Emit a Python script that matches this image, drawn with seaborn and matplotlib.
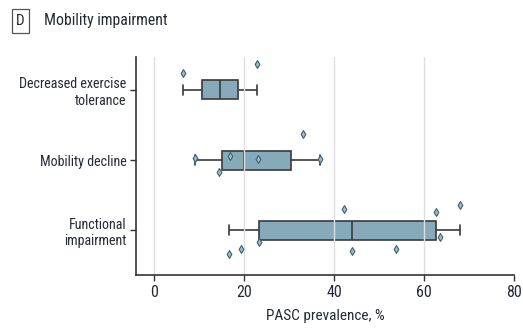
import matplotlib
matplotlib.use("Agg")
import matplotlib.pyplot as plt
import seaborn as sns
import numpy as np
import pandas as pd

# ---- data ----
categories = ["Decreased exercise\ntolerance", "Mobility decline", "Functional\nimpairment"]
exercise_tolerance = [6.5, 22.8]
mobility_decline = [9.1, 14.4, 16.9, 23.1, 33.0, 36.8]
functional_impairment = [16.7, 19.3, 23.3, 42.2, 43.9, 53.7, 62.6, 63.6, 67.9]
x_ticks = [0, 20, 40, 60, 80]
title = "Mobility impairment"
panel = "D"
x_label = "PASC prevalence, %"

rows = []
for cat, vals in zip(categories, [exercise_tolerance, mobility_decline, functional_impairment]):
    for v in vals:
        rows.append({"category": cat, "value": v})
df = pd.DataFrame(rows)

sns.set_theme(style="white")
plt.rcParams["font.family"] = ["Roboto Condensed", "DejaVu Sans"]
text_color = "#262a35"

fig = plt.figure(figsize=(5.23, 3.34), dpi=100)
ax = fig.add_axes([136 / 523, 1 - 275 / 334, (514 - 136) / 523, (275 - 57) / 334])

box_color = "#87aaba"
sns.boxplot(data=df, x="value", y="category", order=categories, orient="h",
            color=box_color, width=0.27, showfliers=False, saturation=1,
            linecolor="#3a3a3a", linewidth=1.2, ax=ax)
np.random.seed(11)
sns.stripplot(data=df, x="value", y="category", order=categories, orient="h",
              jitter=0.38, marker="d", size=4, color="#9dbbc8",
              edgecolor="#3d6272", linewidth=0.8, ax=ax, zorder=4)

ax.set_xlim(-4, 80)
ax.set_ylim(2.64, -0.47)
ax.set_xticks(x_ticks)
ax.set_xticklabels([str(t) for t in x_ticks])
ax.set_axisbelow(False)
for t in x_ticks[:-1]:
    ax.axvline(t, color="#dedede", lw=1.0, zorder=2.5)

for s in ["top", "right"]:
    ax.spines[s].set_visible(False)
for s in ["left", "bottom"]:
    ax.spines[s].set_color("#333333")
    ax.spines[s].set_linewidth(1.2)

ax.tick_params(axis="both", which="major", length=4, width=1, color="#333333",
               labelcolor=text_color, bottom=True, left=True, pad=3)
ax.tick_params(axis="y", labelsize=10.1)
ax.tick_params(axis="x", labelsize=11.5)
ax.set_xlabel(x_label, fontsize=11, color=text_color, labelpad=7)
ax.set_ylabel("")
for lbl in ax.get_yticklabels():
    lbl.set_multialignment("right")

fig.text(20.5 / 523, 1 - 21 / 334, panel, ha="center", va="center", fontsize=11,
         color=text_color,
         bbox=dict(boxstyle="square,pad=0.3", fc="white", ec="#555555", lw=0.9))
fig.text(44 / 523, 1 - 20 / 334, title, ha="left", va="center", fontsize=11.3,
         color=text_color)

fig.savefig("out.png", dpi=100)
